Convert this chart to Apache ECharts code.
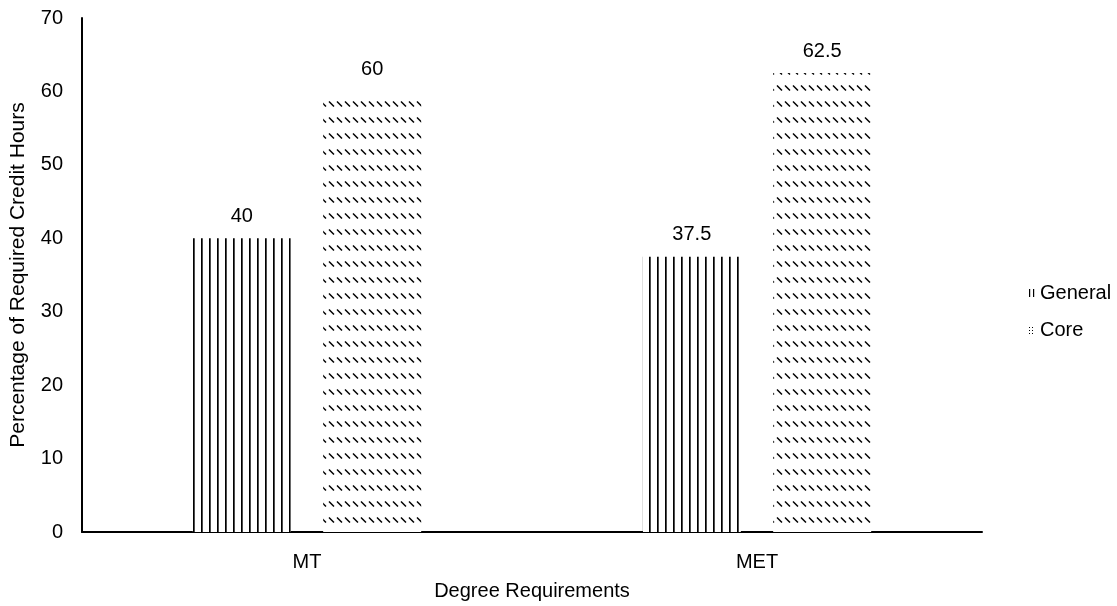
<!DOCTYPE html>
<html>
<head>
<meta charset="utf-8">
<script src="https://cdn.jsdelivr.net/npm/echarts@6/dist/echarts.min.js"></script>
<style>html,body{margin:0;padding:0;background:#fff;}#c{width:1117px;height:606px;}</style>
</head>
<body>
<div id="c"></div>
<script>
const categories = ['MT', 'MET'];
const generalValues = [40, 37.5];
const coreValues = [60, 62.5];
const seriesNames = ['General', 'Core'];

function verticalPattern(step, w) {
  const c = document.createElement('canvas');
  c.width = step; c.height = 8;
  const g = c.getContext('2d');
  g.fillStyle = '#fff'; g.fillRect(0, 0, step, 8);
  g.fillStyle = '#000'; g.fillRect(1, 0, w, 8);
  return c;
}
function diagPattern() {
  const c = document.createElement('canvas');
  c.width = 8; c.height = 16;
  const g = c.getContext('2d');
  g.fillStyle = '#fff'; g.fillRect(0, 0, 8, 16);
  g.strokeStyle = '#000'; g.lineWidth = 1.5;
  g.beginPath(); g.moveTo(1, 5.5); g.lineTo(6, 10.5); g.stroke();
  return c;
}
function diagSmall() {
  const c = document.createElement('canvas');
  c.width = 3; c.height = 3;
  const g = c.getContext('2d');
  g.fillStyle = '#fff'; g.fillRect(0, 0, 3, 3);
  g.fillStyle = '#000'; g.fillRect(1, 1, 1, 1);
  return c;
}

const chart = echarts.init(document.getElementById('c'), null, {renderer: 'canvas'});
const font = 'Liberation Sans, Arial, sans-serif';
const fs = 20;
chart.setOption({
  animation: false,
  backgroundColor: '#fff',
  textStyle: {fontFamily: font, color: '#000'},
  grid: {left: 82, right: 135, top: 18, bottom: 74, containLabel: false},
  legend: {
    orient: 'vertical', left: 1023, top: 278,
    itemWidth: 7, itemHeight: 8, itemGap: 17,
    icon: 'rect',
    textStyle: {fontFamily: font, fontSize: fs, color: '#000'},
    data: [
      {name: seriesNames[0], itemStyle: {color: {image: verticalPattern(4, 1.2), repeat: 'repeat'}}},
      {name: seriesNames[1], itemStyle: {color: {image: diagSmall(), repeat: 'repeat'}}}
    ]
  },
  xAxis: {
    type: 'category', data: categories,
    name: 'Degree Requirements', nameLocation: 'middle', nameGap: 49,
    nameTextStyle: {fontFamily: font, fontSize: fs, color: '#000'},
    axisLine: {lineStyle: {color: '#000', width: 2}},
    axisTick: {show: false},
    axisLabel: {fontFamily: font, fontSize: fs, color: '#000', margin: 20}
  },
  yAxis: {
    type: 'value', min: 0, max: 70, interval: 10,
    name: 'Percentage of Required Credit Hours', nameLocation: 'middle', nameGap: 53,
    nameTextStyle: {fontFamily: font, fontSize: 21, color: '#000'},
    axisLine: {show: true, lineStyle: {color: '#000', width: 2}},
    axisTick: {show: false},
    splitLine: {show: false},
    axisLabel: {fontFamily: font, fontSize: fs, color: '#000', margin: 19}
  },
  series: [
    {
      name: seriesNames[0], type: 'bar', data: generalValues,
      barWidth: 98, barGap: '33%',
      itemStyle: {color: {image: verticalPattern(8, 1.7), repeat: 'repeat'}},
      label: {show: true, position: 'top', distance: 12, fontFamily: font, fontSize: fs, color: '#000'}
    },
    {
      name: seriesNames[1], type: 'bar', data: coreValues,
      barWidth: 98,
      itemStyle: {color: {image: diagPattern(), repeat: 'repeat'}},
      label: {show: true, position: 'top', distance: 12, fontFamily: font, fontSize: fs, color: '#000'}
    }
  ]
});
</script>
</body>
</html>
